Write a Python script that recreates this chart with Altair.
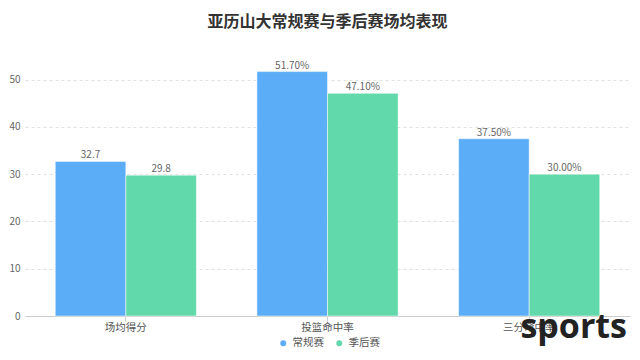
import altair as alt
import pandas as pd

categories = ["场均得分", "投篮命中率", "三分命中率"]
series = ["常规赛", "季后赛"]
regular = [32.7, 51.70, 37.50]
playoff = [29.8, 47.10, 30.00]
regular_labels = ["32.7", "51.70%", "37.50%"]
playoff_labels = ["29.8", "47.10%", "30.00%"]
colors = ["#5AADF6", "#62D9AB"]

rows = []
for i, c in enumerate(categories):
    rows.append({"cat": c, "series": series[0], "value": regular[i], "label": regular_labels[i]})
    rows.append({"cat": c, "series": series[1], "value": playoff[i], "label": playoff_labels[i]})
df = pd.DataFrame(rows)

FONT = "Noto Sans CJK SC"
W, H = 605, 260

xenc = alt.X("cat:N", sort=categories,
             scale=alt.Scale(paddingInner=0.3, paddingOuter=0.15),
             axis=alt.Axis(title=None, labelAngle=0, labelFont=FONT, labelFontSize=10.5,
                           labelColor="#555", domainColor="#ccc", tickColor="#ccc",
                           labelPadding=1, grid=False))
yenc = alt.Y("value:Q", scale=alt.Scale(domain=[0, 55], nice=False),
             axis=alt.Axis(title=None, values=[0, 10, 20, 30, 40, 50], labelFont=FONT,
                           labelFontSize=10, labelColor="#666", domain=False, ticks=False,
                           gridColor="#e0e0e0", gridDash=[3, 3], labelPadding=5))
color = alt.Color("series:N", sort=series, scale=alt.Scale(domain=series, range=colors),
                  legend=alt.Legend(title=None, orient="none", direction="horizontal",
                                    legendX=253, legendY=H + 22, symbolType="circle",
                                    symbolSize=55, labelFont=FONT, labelFontSize=10.5,
                                    labelColor="#555", columnPadding=8, labelOffset=4))
xoff = alt.XOffset("series:N", sort=series)

base = alt.Chart(df).encode(x=xenc, xOffset=xoff)
bars = base.mark_bar(stroke="white", strokeWidth=0.5).encode(y=yenc, color=color)
texts = base.mark_text(dy=-6, font=FONT, fontSize=10, color="#666").encode(
    y=alt.Y("value:Q"), text="label:N")

wm = alt.Chart(pd.DataFrame({"t": ["sports"]})).mark_text(
    font="Open Sans", fontSize=34, fontWeight="bold", color="#222", align="right",
    baseline="middle").encode(x=alt.value(W - 3), y=alt.value(H + 12), text="t:N")

chart = alt.layer(bars, texts, wm).properties(
    width=W, height=H,
    title=alt.TitleParams("亚历山大常规赛与季后赛场均表现", font=FONT, fontSize=16,
                          fontWeight="bold", color="#333", anchor="middle", offset=26),
    autosize=alt.AutoSizeParams(type="none"),
    padding={"left": 17, "top": 48, "right": 2, "bottom": 36},
).configure_view(stroke=None)

chart.save("out.html", embed_options={"renderer": "svg", "actions": False})
